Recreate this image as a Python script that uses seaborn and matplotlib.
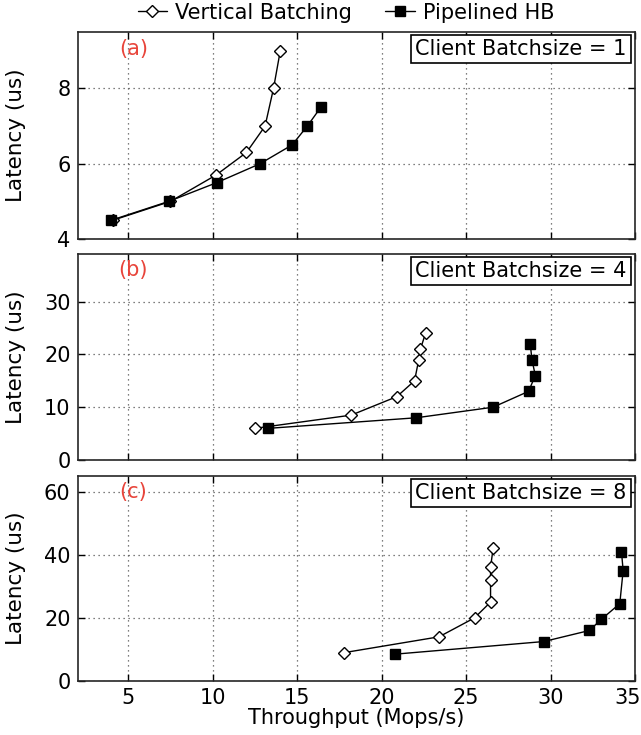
#!/usr/bin/env python3
"""Latency vs throughput for vertical batching and pipelined HB, three client batch sizes."""

import matplotlib
matplotlib.use("Agg")
import matplotlib.pyplot as plt
import matplotlib.transforms as mtransforms
import pandas as pd
import seaborn as sns

SERIES = ["Vertical Batching", "Pipelined HB"]

# (a) client batchsize = 1
A_VB_X = [4.1, 7.5, 10.2, 12.0, 13.1, 13.6, 14.0]
A_VB_Y = [4.5, 5.0, 5.7, 6.3, 7.0, 8.0, 9.0]
A_HB_X = [4.0, 7.4, 10.25, 12.8, 14.7, 15.6, 16.4]
A_HB_Y = [4.5, 5.0, 5.5, 6.0, 6.5, 7.0, 7.5]

# (b) client batchsize = 4
B_VB_X = [12.5, 18.2, 20.9, 21.95, 22.2, 22.3, 22.6]
B_VB_Y = [6.0, 8.5, 12.0, 15.0, 19.0, 21.0, 24.0]
B_HB_X = [13.3, 22.05, 26.6, 28.7, 29.1, 28.9, 28.8]
B_HB_Y = [6.0, 8.0, 10.0, 13.0, 16.0, 19.0, 22.0]

# (c) client batchsize = 8
C_VB_X = [17.8, 23.4, 25.5, 26.45, 26.45, 26.45, 26.6]
C_VB_Y = [9.0, 14.0, 20.0, 25.0, 32.0, 36.0, 42.0]
C_HB_X = [20.8, 29.6, 32.3, 33.0, 34.1, 34.3, 34.2]
C_HB_Y = [8.5, 12.5, 16.0, 19.5, 24.5, 35.0, 41.0]

PANELS = [
    ("(a)", "Client Batchsize = 1", (A_VB_X, A_VB_Y), (A_HB_X, A_HB_Y), (4, 9.5), [4, 6, 8]),
    ("(b)", "Client Batchsize = 4", (B_VB_X, B_VB_Y), (B_HB_X, B_HB_Y), (0, 39), [0, 10, 20, 30]),
    ("(c)", "Client Batchsize = 8", (C_VB_X, C_VB_Y), (C_HB_X, C_HB_Y), (0, 65), [0, 20, 40, 60]),
]

STYLES = {
    "Vertical Batching": dict(marker="D", markersize=6.5, markerfacecolor="white",
                              markeredgecolor="black", markeredgewidth=1.0),
    "Pipelined HB": dict(marker="s", markersize=7.5, markerfacecolor="black",
                         markeredgecolor="black", markeredgewidth=1.0),
}

FS = 15

sns.set_style("ticks")
plt.rcParams.update({
    "font.family": ["DejaVu Sans"],
    "font.size": FS,
    "axes.linewidth": 1.2,
    "text.color": "black",
    "axes.labelcolor": "black",
    "xtick.color": "black",
    "ytick.color": "black",
})

fig = plt.figure(figsize=(6.41, 7.35), dpi=100)
boxes = [
    [0.121, 0.6748, 0.8696, 0.2816],
    [0.121, 0.3741, 0.8696, 0.2803],
    [0.121, 0.0735, 0.8696, 0.2790],
]

handles = []
for i, (tag, note, vb, hb, ylim, yticks) in enumerate(PANELS):
    ax = fig.add_axes(boxes[i])
    for name, (xs, ys) in zip(SERIES, [vb, hb]):
        frame = pd.DataFrame({"throughput": xs, "latency": ys})
        sns.lineplot(data=frame, x="throughput", y="latency", estimator=None,
                     sort=False, color="black", linewidth=1.0, ax=ax,
                     label=name, **STYLES[name])
    if i == 0:
        handles = ax.get_legend_handles_labels()
    ax.get_legend().remove()

    ax.set_xlim(2, 35)
    ax.set_ylim(*ylim)
    ax.set_xticks([5, 10, 15, 20, 25, 30, 35])
    ax.set_yticks(yticks)
    ax.grid(True, linestyle=(0, (1, 3)), color="#555555", linewidth=0.9)
    ax.tick_params(direction="in", top=True, right=True, length=5, width=1,
                   labelsize=FS, pad=5)
    ax.set_ylabel("Latency (us)", fontsize=FS + 0.5)
    ax.yaxis.set_label_coords(-0.092, 0.5)
    if i < 2:
        ax.set_xlabel("")
        ax.tick_params(labelbottom=False)
    else:
        ax.set_xlabel("Throughput (Mops/s)", fontsize=FS, labelpad=0)
        last = ax.get_xticklabels()[-1]
        last.set_transform(last.get_transform()
                           + mtransforms.ScaledTranslation(-7 / 100, 0, fig.dpi_scale_trans))

    ax.text(0.1, 0.92, tag, transform=ax.transAxes, color="#e8443a",
            fontsize=FS, ha="center", va="center")
    ax.text(0.985, 0.965, note, transform=ax.transAxes, ha="right", va="top",
            fontsize=FS,
            bbox=dict(boxstyle="square,pad=0.2", facecolor="white",
                      edgecolor="black", linewidth=1.2))

fig.legend(*handles, loc="upper center", bbox_to_anchor=(0.54, 1.022), ncol=2,
           frameon=False, fontsize=FS, handlelength=1.4, handletextpad=0.4,
           columnspacing=1.6)

fig.savefig("out.png", dpi=100)
